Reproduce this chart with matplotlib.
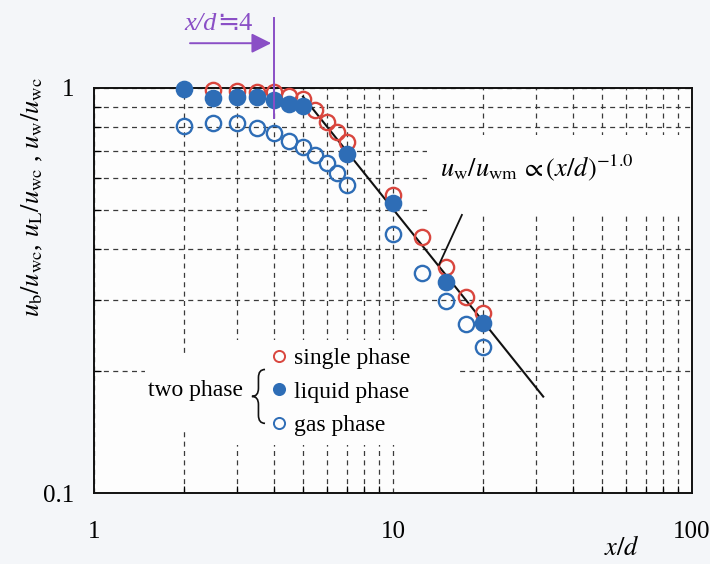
import numpy as np
import matplotlib
matplotlib.use("Agg")
import matplotlib.pyplot as plt
from matplotlib.lines import Line2D
from matplotlib.patches import Rectangle, PathPatch
from matplotlib.path import Path
from matplotlib.ticker import LogLocator, NullFormatter, FixedFormatter, FixedLocator

# ---- data --------------------------------------------------------------
x_single = [2.5, 3.0, 3.5, 4.0, 4.5, 5.0, 5.5, 6.0, 6.5, 7.0, 10.0, 12.5, 15.0, 17.5, 20.0]
y_single = [0.99, 0.985, 0.98, 0.98, 0.955, 0.94, 0.88, 0.826, 0.78, 0.735,
            0.544, 0.429, 0.362, 0.305, 0.278]

x_liquid = [2.0, 2.5, 3.0, 3.5, 4.0, 4.5, 5.0, 7.0, 10.0, 15.0, 20.0]
y_liquid = [0.995, 0.943, 0.952, 0.952, 0.934, 0.913, 0.903, 0.687, 0.519, 0.332, 0.263]

x_gas = [2.0, 2.5, 3.0, 3.5, 4.0, 4.5, 5.0, 5.5, 6.0, 6.5, 7.0, 10.0, 12.5, 15.0, 17.5, 20.0]
y_gas = [0.806, 0.818, 0.818, 0.795, 0.776, 0.741, 0.716, 0.683, 0.652, 0.616, 0.576,
         0.436, 0.350, 0.298, 0.262, 0.230]

# fitted power-law line (end points)
x_fit = [5.0, 31.8]
y_fit = [0.952, 0.173]

x_ticks = [1, 10, 100]
x_ticklabels = ["1", "10", "100"]
y_ticks = [0.1, 1]
y_ticklabels = ["0.1", "1"]

RED = "#d9463e"
BLUE = "#2e6db6"
PURPLE = "#8a4fc6"
GRID = "#3a3a3a"
SERIF = ["Liberation Serif", "DejaVu Sans"]

plt.rcParams["font.family"] = SERIF
plt.rcParams["mathtext.fontset"] = "stix"

fig = plt.figure(figsize=(7.10, 5.64), dpi=100, facecolor="#f4f6f9")
ax = fig.add_axes([94 / 710, 71 / 564, 598 / 710, 405 / 564])
ax.set_facecolor("#fdfdfd")
ax.set_xscale("log")
ax.set_yscale("log")
ax.set_xlim(1, 100)
ax.set_ylim(0.1, 1)
ax.set_axisbelow(True)

ax.xaxis.set_major_locator(FixedLocator(x_ticks))
ax.xaxis.set_major_formatter(FixedFormatter(x_ticklabels))
ax.yaxis.set_major_locator(FixedLocator(y_ticks))
ax.yaxis.set_major_formatter(FixedFormatter(y_ticklabels))
ax.xaxis.set_minor_locator(LogLocator(base=10, subs=np.arange(2, 10)))
ax.yaxis.set_minor_locator(LogLocator(base=10, subs=np.arange(2, 10)))
ax.xaxis.set_minor_formatter(NullFormatter())
ax.yaxis.set_minor_formatter(NullFormatter())
ax.tick_params(which="major", length=0, labelsize=18)
ax.tick_params(axis="x", which="major", pad=20)
ax.tick_params(axis="y", which="major", pad=14)
ax.tick_params(which="minor", direction="in", length=5, width=0.9)

ax.grid(which="both", ls=(0, (4, 3.5)), color=GRID, lw=0.9)
for s in ax.spines.values():
    s.set_linewidth(1.4)
    s.set_color("#111111")

# white masks behind the annotation and the legend
for (x0, y0, w, h) in [(0.557, 0.691, 0.443, 0.193),
                       (0.227, 0.119, 0.385, 0.259),
                       (0.085, 0.156, 0.142, 0.180)]:
    ax.add_patch(Rectangle((x0, y0), w, h, transform=ax.transAxes,
                           facecolor="#fdfdfd", edgecolor="none", zorder=1))

# power-law line
ax.plot(x_fit, y_fit, color="#111111", lw=1.5, zorder=2)

kw = dict(ls="none", marker="o", ms=11, mew=1.7, clip_on=False, zorder=3)
ax.plot(x_single, y_single, mfc="none", mec=RED, **kw)
ax.plot(x_gas, y_gas, mfc="none", mec=BLUE, **kw)
ax.plot(x_liquid, y_liquid, mfc=BLUE, mec=BLUE, **dict(kw, zorder=4))

# annotation of the power law
ax.text(14.4, 0.634, r"$u_{\rm w}/u_{\rm wm}\,\propto (x/d)^{-1.0}$",
        fontsize=19, ha="left", va="center", zorder=5)
ax.plot([17.0, 14.25], [0.486, 0.366], color="#111111", lw=1.3, zorder=5)

# purple x/d = 4 marker
ax.plot([4, 4], [0.843, 1.49], color=PURPLE, lw=1.4, clip_on=False, zorder=5)
ax.annotate("", xy=(4, 1.29), xytext=(2.05, 1.29), annotation_clip=False,
            arrowprops=dict(arrowstyle="-|>,head_length=0.6,head_width=0.3",
                            color=PURPLE, lw=1.4, mutation_scale=20))
ax.text(2.58, 1.44, "x/d", color=PURPLE, fontsize=19, fontstyle="italic",
        ha="right", va="center", clip_on=False)
ax.text(2.58, 1.44, "≒4", color=PURPLE, fontsize=19, ha="left",
        va="center", clip_on=False, family=SERIF)

# legend
handles = [Line2D([], [], ls="none", marker="o", ms=8, mew=1.4, mfc="none", mec=RED),
           Line2D([], [], ls="none", marker="o", ms=8, mew=1.4, mfc=BLUE, mec=BLUE),
           Line2D([], [], ls="none", marker="o", ms=8, mew=1.4, mfc="none", mec=BLUE)]
leg = ax.legend(handles, ["single phase", "liquid phase", "gas phase"],
                loc="center left", bbox_to_anchor=(0.273, 0.250), frameon=False,
                fontsize=17, handlelength=0.8, handletextpad=0.25,
                labelspacing=0.5, borderpad=0)
leg.set_zorder(6)

ax.text(0.249, 0.252, "two phase", transform=ax.transAxes, fontsize=17,
        ha="right", va="center", zorder=6)

# curly brace
xl, xm, xr = 0.264, 0.275, 0.286
y0, y1 = 0.172, 0.305
ym, r = (y0 + y1) / 2, 0.02
verts = [(xr, y1), (xm, y1), (xm, y1 - r), (xm, ym + r), (xm, ym), (xl, ym),
         (xm, ym), (xm, ym - r), (xm, y0 + r), (xm, y0), (xr, y0)]
codes = [Path.MOVETO, Path.CURVE3, Path.CURVE3, Path.LINETO, Path.CURVE3, Path.CURVE3,
         Path.CURVE3, Path.CURVE3, Path.LINETO, Path.CURVE3, Path.CURVE3]
ax.add_patch(PathPatch(Path(verts, codes), transform=ax.transAxes, fill=False,
                       lw=1.2, edgecolor="#111111", zorder=6))

# axis labels
fig.text(32 / 710, 1 - 197 / 564,
         r"$u_{\rm b}/u_{\rm wc}$, $u_{\rm L}/u_{\rm wc}$ , $u_{\rm w}/u_{\rm wc}$",
         rotation=90, ha="center", va="center", fontsize=19)
fig.text(622 / 710, 1 - 548 / 564, "$x/d$", ha="center", va="center", fontsize=19)

fig.savefig("out.png", dpi=100, facecolor=fig.get_facecolor())
